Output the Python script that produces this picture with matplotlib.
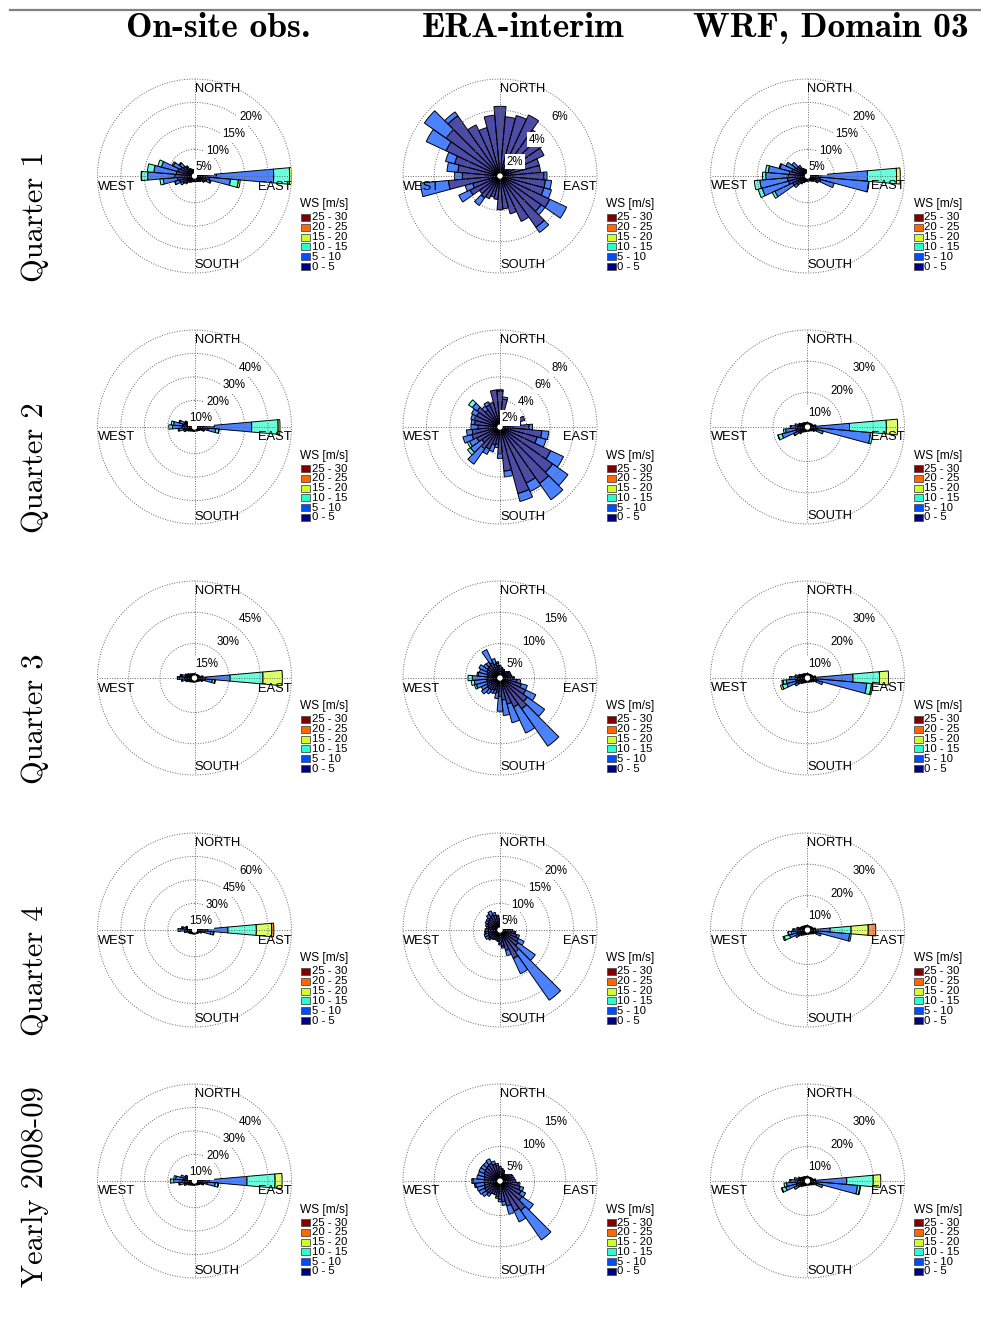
import numpy as np
import matplotlib.pyplot as plt
from matplotlib.patches import Rectangle
from matplotlib.transforms import offset_copy

W, H = 981, 1317

col_titles = ["On-site obs.", "ERA-interim", "WRF, Domain 03"]
row_titles = ["Quarter 1", "Quarter 2", "Quarter 3", "Quarter 4", "Yearly 2008-09"]
speed_bins = ["0 - 5", "5 - 10", "10 - 15", "15 - 20", "20 - 25", "25 - 30"]
directions = np.arange(0, 360, 10)

# frequency [%] per 10 deg sector, per speed bin (0-5, 5-10, 10-15, ...)
# dense bins are full lists of 36 sectors, sparse ones are {direction: value}
obs_q1 = [
    [0.7, 0.5, 0.5, 0.6, 0.7, 0.8, 1.0, 1.2, 1.8, 4.0, 2.5, 2.0, 1.4, 1.0, 0.8, 0.6, 0.5, 0.5,
     0.5, 0.5, 0.6, 0.8, 1.0, 1.5, 2.0, 2.6, 3.0, 3.5, 3.2, 3.0, 2.6, 2.2, 1.6, 1.1, 0.8, 0.7],
    {80: 0.5, 90: 12.2, 100: 4.5, 110: 0.8, 120: 0.3, 230: 0.2, 240: 0.6, 250: 1.0, 260: 3.0,
     270: 5.8, 280: 4.8, 290: 3.6, 300: 1.7, 310: 1.0, 320: 0.4},
    {90: 3.4, 100: 1.7, 110: 0.2, 250: 0.1, 260: 0.7, 270: 1.3, 280: 1.4, 290: 0.8, 300: 0.3, 310: 0.2},
    {90: 0.5, 100: 0.4, 270: 0.1},
]
obs_q2 = [
    [0.5, 0.4, 0.4, 0.4, 0.5, 0.6, 0.8, 1.2, 2.2, 7.0, 4.5, 2.2, 1.3, 0.9, 0.7, 0.5, 0.4, 0.4,
     0.4, 0.4, 0.5, 0.6, 0.8, 1.2, 1.8, 2.6, 3.2, 3.8, 3.6, 3.0, 2.4, 1.8, 1.2, 0.8, 0.6, 0.5],
    {80: 0.8, 90: 16.0, 100: 3.2, 110: 0.6, 250: 0.8, 260: 2.0, 270: 4.2, 280: 4.0, 290: 2.2, 300: 0.8},
    {90: 11.3, 100: 1.3, 110: 0.2, 260: 0.5, 270: 1.6, 280: 1.0, 290: 0.3},
    {90: 0.8, 100: 0.2},
]
obs_q3 = [
    [0.5, 0.4, 0.4, 0.4, 0.5, 0.6, 0.8, 1.0, 2.0, 4.0, 3.5, 2.0, 1.2, 0.8, 0.6, 0.5, 0.4, 0.4,
     0.4, 0.4, 0.5, 0.6, 0.8, 1.2, 1.6, 2.2, 2.8, 3.0, 2.6, 2.2, 1.8, 1.4, 1.0, 0.7, 0.6, 0.5],
    {80: 0.6, 90: 11.5, 100: 3.5, 110: 0.5, 250: 0.6, 260: 1.6, 270: 2.6, 280: 2.0, 290: 1.0, 300: 0.4},
    {90: 15.8, 100: 1.2, 260: 0.4, 270: 0.8, 280: 0.5},
    {90: 9.3, 100: 0.3, 270: 0.3, 280: 0.3},
]
obs_q4 = [
    [0.6, 0.5, 0.5, 0.5, 0.6, 0.7, 0.9, 1.2, 2.2, 6.0, 4.5, 2.2, 1.3, 0.9, 0.7, 0.5, 0.5, 0.5,
     0.5, 0.5, 0.6, 0.7, 0.9, 1.3, 1.8, 2.4, 3.0, 3.5, 3.0, 2.5, 2.0, 1.6, 1.1, 0.8, 0.7, 0.6],
    {80: 0.6, 90: 13.3, 100: 4.0, 110: 0.6, 260: 1.5, 270: 3.5, 280: 2.5, 290: 1.2, 300: 0.5},
    {90: 18.2, 100: 1.5, 270: 1.2, 280: 0.8},
    {90: 9.8, 100: 0.5, 270: 0.3},
    {90: 1.4},
]
obs_yr = [
    [0.5, 0.4, 0.4, 0.4, 0.5, 0.6, 0.8, 1.1, 2.1, 5.0, 4.0, 2.1, 1.3, 0.9, 0.7, 0.5, 0.4, 0.4,
     0.4, 0.4, 0.5, 0.6, 0.8, 1.2, 1.7, 2.4, 3.0, 3.5, 3.2, 2.7, 2.2, 1.7, 1.1, 0.8, 0.6, 0.5],
    {80: 0.7, 90: 16.0, 100: 3.5, 110: 0.6, 250: 0.8, 260: 2.0, 270: 4.0, 280: 3.5, 290: 2.0, 300: 0.8},
    {90: 12.0, 100: 1.2, 260: 0.4, 270: 1.3, 280: 0.8},
    {90: 3.0, 100: 0.2, 270: 0.1},
]

era_q1 = [
    [4.25, 3.6, 3.8, 4.1, 3.4, 3.2, 2.9, 2.4, 2.4, 2.6, 2.7, 2.7, 3.3, 3.0, 3.8, 3.0, 2.3, 1.9,
     1.95, 1.3, 1.2, 1.4, 1.5, 1.4, 1.9, 1.6, 3.1, 2.2, 2.5, 2.8, 3.6, 4.0, 4.5, 3.4, 3.0, 3.7],
    {90: 0.2, 100: 0.4, 110: 0.5, 120: 1.2, 130: 0.3, 140: 0.4, 220: 0.6, 240: 0.8, 250: 0.5,
     260: 1.8, 270: 0.5, 280: 0.7, 290: 0.6, 300: 1.4, 310: 1.7, 320: 0.3},
]
era_q2 = [
    [2.8, 2.1, 0.6, 0.6, 0.6, 0.6, 0.8, 1.9, 1.5, 2.2, 3.3, 3.0, 4.5, 5.2, 5.6, 5.0, 5.6, 3.5,
     2.0, 1.2, 1.3, 1.8, 2.0, 1.6, 1.9, 2.2, 2.1, 1.6, 1.9, 2.0, 1.9, 2.1, 1.5, 1.8, 1.9, 2.9],
    {0: 0.1, 10: 0.2, 90: 0.3, 100: 0.6, 110: 0.8, 120: 1.2, 130: 1.6, 140: 1.7, 150: 0.8,
     160: 0.7, 170: 0.5, 180: 0.4, 190: 0.3, 200: 0.6, 210: 0.5, 220: 1.6, 230: 1.2, 240: 0.7,
     250: 0.8, 260: 0.5, 270: 0.6, 280: 0.3, 290: 0.3, 300: 0.5, 310: 0.5, 320: 0.4, 330: 0.3},
    {230: 0.3, 240: 0.2, 310: 0.4},
]
era_q3 = [
    [1.5, 1.2, 1.0, 1.0, 1.1, 1.2, 1.3, 1.3, 1.4, 1.6, 2.2, 3.0, 4.0, 4.8, 5.5, 4.6, 3.8, 3.0,
     2.4, 1.8, 1.5, 1.6, 1.8, 1.9, 1.8, 1.6, 1.6, 1.6, 1.5, 1.6, 1.8, 1.9, 2.0, 2.2, 1.8, 1.5],
    {90: 0.2, 100: 0.6, 110: 1.0, 120: 1.8, 130: 3.4, 140: 7.3, 150: 4.6, 160: 3.1, 170: 2.5,
     180: 2.4, 190: 1.0, 200: 0.6, 210: 0.6, 220: 0.8, 230: 1.2, 240: 1.0, 250: 1.8, 260: 2.0,
     270: 2.3, 280: 1.5, 290: 1.3, 300: 1.4, 310: 0.8, 320: 0.6, 330: 2.3, 340: 0.9, 350: 0.4},
    {250: 0.3, 260: 0.5, 270: 0.7, 280: 0.2, 350: 0.2},
]
era_q4 = [
    [1.8, 1.4, 1.2, 1.2, 1.3, 1.4, 1.5, 1.6, 1.8, 2.0, 2.4, 3.0, 3.6, 4.0, 5.0, 6.0, 3.8, 2.8,
     2.2, 1.8, 1.6, 1.6, 1.8, 2.0, 2.0, 1.9, 1.8, 1.8, 1.8, 2.0, 2.2, 2.4, 2.6, 2.8, 2.6, 2.2],
    {100: 0.3, 110: 0.6, 120: 1.4, 130: 4.5, 140: 12.6, 150: 3.6, 160: 1.2, 170: 0.4, 180: 0.3,
     230: 0.4, 240: 0.8, 250: 0.9, 260: 0.6, 270: 0.7, 280: 0.4, 290: 0.5, 300: 0.6, 310: 0.5,
     320: 0.8, 330: 1.0, 340: 0.6, 350: 0.3},
    {260: 0.2},
]
era_yr = [
    [1.8, 1.5, 1.3, 1.3, 1.4, 1.5, 1.6, 1.7, 1.8, 2.0, 2.4, 2.8, 3.2, 3.8, 5.2, 4.8, 3.6, 2.8,
     2.4, 2.0, 1.8, 1.8, 2.0, 2.2, 2.2, 2.1, 2.0, 2.0, 2.0, 2.1, 2.3, 2.4, 2.5, 2.6, 2.3, 2.0],
    {100: 0.3, 110: 0.6, 120: 0.8, 130: 2.2, 140: 5.8, 150: 1.9, 160: 1.4, 170: 0.6, 180: 0.4,
     190: 0.3, 220: 0.5, 230: 0.8, 240: 1.0, 250: 1.2, 260: 1.4, 270: 1.8, 280: 1.2, 290: 1.0,
     300: 0.9, 310: 0.8, 320: 0.7, 330: 0.8, 340: 0.5, 350: 0.3},
    {260: 0.2, 270: 0.2},
]

wrf_q1 = [
    [0.5, 0.4, 0.4, 0.4, 0.5, 0.6, 0.8, 1.0, 1.3, 1.5, 2.0, 2.2, 1.5, 1.0, 0.7, 0.5, 0.4, 0.4,
     0.4, 0.5, 0.6, 0.9, 1.4, 2.0, 2.8, 3.5, 3.6, 3.4, 3.2, 2.8, 2.4, 2.0, 1.5, 1.1, 0.8, 0.6],
    {80: 0.3, 90: 10.6, 100: 10.4, 110: 3.0, 120: 0.4, 230: 0.8, 240: 4.2, 250: 5.8, 260: 5.9,
     270: 4.8, 280: 4.5, 290: 2.6, 300: 2.0, 310: 1.4, 320: 0.6},
    {90: 6.2, 100: 0.1, 240: 0.6, 250: 0.9, 260: 1.2, 270: 0.7, 280: 0.6, 290: 0.2},
    {90: 0.8},
]
wrf_q2 = [
    [0.4, 0.3, 0.3, 0.3, 0.4, 0.5, 0.6, 0.8, 1.2, 1.5, 2.0, 2.0, 1.2, 0.8, 0.5, 0.4, 0.3, 0.3,
     0.3, 0.4, 0.5, 0.7, 1.0, 1.6, 2.2, 2.8, 2.6, 2.2, 1.8, 1.4, 1.1, 0.9, 0.7, 0.5, 0.4, 0.4],
    {80: 0.5, 90: 10.9, 100: 17.2, 110: 2.2, 120: 0.3, 230: 0.5, 240: 1.5, 250: 4.6, 260: 3.4,
     270: 2.0, 280: 1.2, 290: 0.5},
    {90: 11.8, 100: 0.7, 240: 0.2, 250: 1.3, 260: 0.7, 270: 0.3},
    {90: 3.6, 250: 0.1},
]
wrf_q3 = [
    [0.4, 0.3, 0.3, 0.3, 0.4, 0.5, 0.6, 0.8, 1.2, 1.5, 2.0, 2.0, 1.2, 0.8, 0.5, 0.4, 0.3, 0.3,
     0.3, 0.4, 0.5, 0.7, 1.0, 1.6, 2.2, 2.8, 2.6, 2.2, 1.8, 1.4, 1.1, 0.9, 0.7, 0.5, 0.4, 0.4],
    {80: 0.4, 90: 12.0, 100: 16.0, 110: 2.0, 240: 1.2, 250: 3.0, 260: 3.2, 270: 2.0, 280: 1.2, 290: 0.5},
    {90: 8.5, 100: 1.5, 250: 1.5, 260: 1.0, 270: 0.5},
    {90: 2.9, 100: 0.4, 250: 0.6, 260: 0.4},
]
wrf_q4 = [
    [0.4, 0.3, 0.3, 0.3, 0.4, 0.5, 0.6, 0.8, 1.2, 1.5, 2.0, 2.0, 1.2, 0.8, 0.5, 0.4, 0.3, 0.3,
     0.3, 0.4, 0.5, 0.7, 1.0, 1.6, 2.2, 2.4, 2.2, 1.9, 1.6, 1.3, 1.0, 0.8, 0.6, 0.5, 0.4, 0.4],
    {80: 0.3, 90: 4.7, 100: 10.5, 110: 1.5, 240: 1.0, 250: 2.5, 260: 2.0, 270: 1.4, 280: 0.8},
    {90: 6.7, 100: 0.5, 250: 1.8, 260: 0.9, 270: 0.4},
    {90: 5.5, 250: 0.4, 260: 0.2},
    {90: 2.4},
]
wrf_yr = [
    [0.4, 0.3, 0.3, 0.3, 0.4, 0.5, 0.6, 0.8, 1.2, 1.5, 2.0, 2.0, 1.2, 0.8, 0.5, 0.4, 0.3, 0.3,
     0.3, 0.4, 0.5, 0.7, 1.0, 1.6, 2.2, 2.7, 2.5, 2.1, 1.7, 1.4, 1.1, 0.9, 0.7, 0.5, 0.4, 0.4],
    {80: 0.4, 90: 10.0, 100: 13.0, 110: 2.0, 240: 1.5, 250: 3.5, 260: 3.2, 270: 2.2, 280: 1.5, 290: 0.6},
    {90: 8.5, 100: 0.8, 250: 1.2, 260: 0.8, 270: 0.4},
    {90: 2.4, 100: 0.2, 250: 0.2},
]

roses = [
    [obs_q1, era_q1, wrf_q1],
    [obs_q2, era_q2, wrf_q2],
    [obs_q3, era_q3, wrf_q3],
    [obs_q4, era_q4, wrf_q4],
    [obs_yr, era_yr, wrf_yr],
]
# (ring step in %, number of rings)
rings = [
    [(5, 4), (2, 3), (5, 4)],
    [(10, 4), (2, 4), (10, 3)],
    [(15, 3), (5, 3), (10, 3)],
    [(15, 4), (5, 4), (10, 3)],
    [(10, 4), (5, 3), (10, 3)],
]

colors = plt.cm.jet(np.linspace(0, 1, 6))
face_alpha = 0.7
grid_kw = dict(color='0.4', linestyle=(0, (1, 1.6)), linewidth=0.7)

col_x = [194.5, 500, 807.5]
row_y = [176, 427, 678, 930, 1181]
R = 97


def as_array(b):
    if isinstance(b, dict):
        out = np.zeros(len(directions))
        for d, v in b.items():
            out[d // 10] = v
        return out
    return np.array(b, dtype=float)


def draw_rose(fig, ax, bins, step, nring):
    rmax = step * nring
    theta = np.radians(directions)
    width = np.radians(10)
    base = np.zeros(len(directions))
    for k, b in enumerate(bins):
        vals = as_array(b)
        m = vals > 0
        fc = list(colors[k][:3]) + [face_alpha]
        ax.bar(theta[m], vals[m], width=width, bottom=base[m], color=fc,
               edgecolor='black', linewidth=0.7, align='center')
        base += vals

    ax.set_theta_zero_location('N')
    ax.set_theta_direction(-1)
    ax.set_ylim(0, rmax)
    ax.set_rorigin(-0.035 * rmax)
    ax.set_xticks(np.radians([0, 90, 180, 270]))
    ax.set_xticklabels([])
    ax.set_yticks([step * i for i in range(1, nring)])
    ax.set_yticklabels([])
    ax.tick_params(length=0)
    ax.grid(True, **grid_kw)
    ax.set_axisbelow(False)
    for s in ax.spines.values():
        s.set_visible(False)
    t = np.linspace(0, 2 * np.pi, 361)
    ax.plot(t, np.full_like(t, rmax), clip_on=False, **grid_kw)

    # ring labels sit just below-left of the ring at 45 deg
    lab_tr = offset_copy(ax.transData, fig=fig, x=-1, y=-4, units='dots')
    for i in range(1, nring + 1):
        ax.text(np.radians(45), step * i, f"{step * i}%", ha='right', va='top',
                fontsize=8.3, family='Liberation Sans', zorder=5, transform=lab_tr,
                bbox=dict(facecolor='white', edgecolor='none', pad=1.2))

    kw = dict(fontsize=9.3, family='Liberation Sans', transform=ax.transAxes,
              va='baseline', zorder=6)
    ax.text(0.5, 1 - 13 / (2 * R), "NORTH", ha='left', **kw)
    ax.text(0.5, 0.5 - 92.5 / (2 * R), "SOUTH", ha='left', **kw)
    ax.text(0.0, 0.5 - 13.5 / (2 * R), "WEST", ha='left', **kw)
    ax.text(1.0, 0.5 - 13.5 / (2 * R), "EAST", ha='right', **kw)


fig = plt.figure(figsize=(W / 100, H / 100), dpi=100)

for r in range(5):
    for c in range(3):
        cx, cy = col_x[c], row_y[r]
        ax = fig.add_axes([(cx - R) / W, 1 - (cy + R) / H, 2 * R / W, 2 * R / H],
                          projection='polar')
        step, nring = rings[r][c]
        draw_rose(fig, ax, roses[r][c], step, nring)

        # legend
        lx = cx + 106
        fig.text(lx / W, 1 - (cy + 28.5) / H, "WS [m/s]", fontsize=8.6,
                 family='Liberation Sans', va='center', ha='left')
        for k in range(6):
            yy = cy + 41.5 + 9.8 * (5 - k)
            fig.add_artist(Rectangle(((lx + 0.5) / W, 1 - (yy + 3.5) / H), 9 / W, 7 / H,
                                     transform=fig.transFigure, facecolor=colors[k],
                                     edgecolor='0.3', linewidth=0.6))
            fig.text((lx + 11) / W, 1 - yy / H, speed_bins[k], fontsize=8.2,
                     family='Liberation Sans', va='center', ha='left')

for c in range(3):
    fig.text([218, 523, 831][c] / W, 1 - 37 / H, col_titles[c], fontsize=25.5,
             family=['cmb10', 'DejaVu Serif'], ha='center', va='baseline')
for r in range(5):
    fig.text(35 / W, 1 - (row_y[r] + 106) / H, row_titles[r], fontsize=22,
             family=['cmr10', 'DejaVu Serif'], rotation=90, ha='center', va='bottom')

fig.add_artist(plt.Line2D([10 / W, 1], [1 - 10 / H, 1 - 10 / H], color='0.5',
                          linewidth=1.6, transform=fig.transFigure))

fig.savefig('out.png', dpi=100)
